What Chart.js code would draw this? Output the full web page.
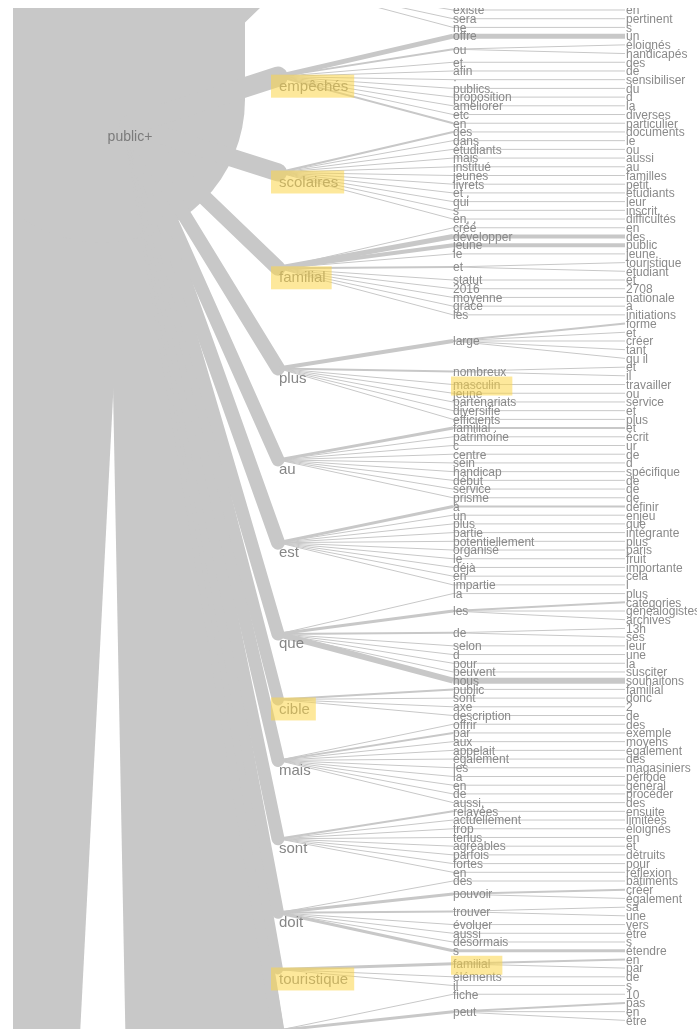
<!DOCTYPE html>
<html>
<head>
<meta charset="utf-8">
<title>Arbre de mots : public+</title>
<script src="https://cdn.jsdelivr.net/npm/chart.js@4.4.0/dist/chart.umd.min.js"></script>
<style>
    html, body { margin: 0; padding: 0; background: #fff; overflow: hidden; }
    #wrap { position: absolute; left: 13px; top: 8px; width: 684px; height: 1021px; }
</style>
</head>
<body>
<div id="wrap"><canvas id="tree" width="684" height="1021" style="width:684px;height:1021px"></canvas></div>
<script>
// Root word of the tree
const rootWord = 'public+';

// Level 1 : words following the root ('' = node outside the visible crop)
const l1Words  = ['', 'empêchés', 'scolaires', 'familial', 'plus', 'au', 'est', 'que', 'cible', 'mais', 'sont', 'doit', 'touristique', ''];
const l1Kids   = [3, 10, 11, 10, 7, 9, 10, 8, 4, 10, 8, 7, 3, 2];
const l1Width  = [14, 20, 18, 15, 14, 13, 14, 13, 12, 13, 13, 12, 10, 12];
const l1Mark   = [0, 1, 1, 1, 0, 0, 0, 0, 1, 0, 0, 0, 1, 0];
// rows of the first / last node that lie above / below the crop
const l1Hidden = [8, 0, 0, 0, 0, 0, 0, 0, 0, 0, 0, 0, 0, 6];

// Level 2
const l2Words = [
    'existe', 'sera', 'ne',
    'offre', 'ou', 'et.', 'afin', '·', 'publics.', 'proposition', 'améliorer', 'etc', 'en',
    'des', 'dans', 'étudiants', 'mais', 'institué', 'jeunes', 'livrets', 'et .', 'qui', 's', 'en, ,',
    'créé', 'développer', 'jeune', 'le', 'et', 'statut', '2016', 'moyenne', 'grâce', 'les',
    'large', 'nombreux', 'masculin', 'jeune', 'partenariats', 'diversifie', 'efficients',
    'familial .', 'patrimoine', 'c', 'centre', 'sein', 'handicap', 'début', 'service', 'prisme',
    'à', 'un', 'plus', 'partie', 'potentiellement', 'organisé', 'le', 'déjà', 'en', 'impartie',
    'la', 'les', 'de', 'selon', 'd', 'pour', 'peuvent', 'nous',
    'public', 'sont', 'axe', 'description',
    'offrir', 'par', 'aux', 'appelait', 'également', 'les', 'la', 'en', 'de', 'aussi,',
    'relayées', 'actuellement', 'trop', 'tenus', 'agréables', 'parfois', 'fortes', 'en',
    'des', 'pouvoir', 'trouver', 'évoluer', 'aussi', 'désormais', 's',
    'familial', 'éléments', 'il',
    'fiche', 'peut'
];
const l2Kids = [
    1, 1, 1,
    1, 2, 1, 1, 1, 1, 1, 1, 1, 1,
    1, 1, 1, 1, 1, 1, 1, 1, 1, 1, 1,
    1, 1, 1, 1, 2, 1, 1, 1, 1, 1,
    5, 2, 1, 1, 1, 1, 1,
    1, 1, 1, 1, 1, 1, 1, 1, 1,
    1, 1, 1, 1, 1, 1, 1, 1, 1, 1,
    1, 3, 2, 1, 1, 1, 1, 1,
    1, 1, 1, 1,
    1, 1, 1, 1, 1, 1, 1, 1, 1, 1,
    1, 1, 1, 1, 1, 1, 1, 1,
    1, 2, 2, 1, 1, 1, 1,
    2, 1, 1,
    1, 3
];
const l2Width = [
    1, 1, 1,
    5, 2, 1, 1, 1, 1, 1, 1, 1, 2,
    2, 1, 1, 1, 1, 1, 1, 1, 1, 1, 1,
    1, 5, 4, 1, 2, 1, 1, 1, 1, 1,
    4, 2, 1, 1, 1, 1, 1,
    3, 1, 1, 1, 1, 1, 1, 1, 1,
    3, 1, 1, 1, 1, 1, 1, 1, 1, 1,
    1, 3, 2, 1, 1, 1, 1, 6,
    2, 1, 1, 1,
    1, 2, 1, 1, 1, 1, 1, 1, 1, 1,
    2, 1, 1, 1, 1, 1, 1, 1,
    1, 3, 2, 1, 1, 1, 3,
    3, 1, 1,
    1, 3
];
const l2Marked = [36, 97];

// Level 3
const l3Words = [
    'en', 'pertinent', 's', 'un', 'éloignés', 'handicapés', 'des', 'de', 'sensibiliser', 'du',
    'd', 'la', 'diverses', 'particulier', 'documents', 'le', 'ou', 'aussi', 'au', 'familles',
    'petit.', 'étudiants', 'leur', 'inscrit.', 'difficultés', 'en', 'des', 'public', 'jeune.', 'touristique',
    'étudiant', 'et', '2708', 'nationale', 'à', 'initiations', 'forme', 'et', 'créer', 'tant',
    'qu il', 'et', 'il', 'travailler', 'ou', 'service', 'et', 'plus', 'et', 'écrit',
    'ur', 'de', 'd', 'spécifique', 'de', 'de', 'de', 'définir', 'enjeu', 'que',
    'intégrante', 'plus', 'paris', 'fruit', 'importante', 'cela', 'l', 'plus', 'catégories', 'généalogistes',
    'archives', '13h', 'ses', 'leur', 'une', 'la', 'susciter', 'souhaitons', 'familial', 'donc',
    '2', 'de', 'des', 'exemple', 'moyens', 'également', 'des', 'magasiniers', 'période', 'général',
    'procéder', 'des', 'ensuite', 'limitées', 'éloignés', 'en', 'et', 'détruits', 'pour', 'réflexion',
    'bâtiments', 'créer', 'également', 'sa', 'une', 'vers', 'être', 's', 'étendre', 'en',
    'par', 'de', 's', '10', 'pas', 'en', 'être'
];
const l3ThickRows  = [3, 26, 27, 36, 48, 57, 68, 77, 101, 108, 109, 114];
const l3ThickWidth = [5, 4, 4, 2, 2, 2, 2, 6, 2, 3, 2, 2];

// Branches from the root towards nodes far outside the crop
const farFromX   = [102, 72, 129, 129, 129, 129, 129, 129];
const farFromRow = [10.3, 13.2, 13.2, 13.2, 13.2, 13.2, 13.2, 13.2];
const farToX     = [102, -25, 278, 278, 278, 278, 278, 278];
const farToRow   = [-600, 228.5, 120.6, 136.6, 171, 228.5, 343, 906];
const farWidth   = [286, 110, 22, 27, 30, 31, 32, 42];

// Layout
const COL_X = [129, 278, 453, 625];
const ROOT_ROW = 13.2;
const LIFT = 0.35;            // level-1 links attach a little above the label
const LINK = '#c8c8c8';

const l2First = [], l2Last = [], l2Row = [];
let row = 0;
l2Kids.forEach(n => {
    l2First.push(row);
    row += n;
    l2Last.push(row - 1);
    l2Row.push((l2First[l2First.length - 1] + row - 1) / 2);
});

const l1Row = [], l1Range = [];
let k = 0;
l1Kids.forEach((n, i) => {
    const a = k, b = k + n - 1;
    k += n;
    let top = l2First[a], bottom = l2Last[b];
    if (i === 0) top -= l1Hidden[i]; else bottom += l1Hidden[i];
    l1Row.push((top + bottom) / 2);
    l1Range.push([a, b]);
});

const datasets = [];
function link(x0, r0, x1, r1, w, cap) {
    datasets.push({
        data: [{ x: x0, y: r0 }, { x: x1, y: r1 }],
        showLine: true,
        borderColor: LINK,
        borderWidth: w,
        borderCapStyle: cap || 'butt',
        pointRadius: 0,
        pointHoverRadius: 0,
        fill: false
    });
}

// level 2 -> level 3
l2Words.forEach((w, j) => {
    for (let c = l2First[j]; c <= l2Last[j]; c++) {
        const t = l3ThickRows.indexOf(c);
        link(COL_X[2], l2Row[j], COL_X[3], c, t >= 0 ? l3ThickWidth[t] : 1);
    }
});
// level 1 -> level 2
l1Words.forEach((w, i) => {
    for (let j = l1Range[i][0]; j <= l1Range[i][1]; j++) {
        link(COL_X[1], l1Row[i] - LIFT, COL_X[2], l2Row[j], l2Width[j]);
    }
});
// root -> level 1
l1Words.forEach((w, i) => link(COL_X[0], ROOT_ROW, COL_X[1], l1Row[i] - LIFT, l1Width[i], 'round'));
// root -> far nodes
farWidth.forEach((w, i) => link(farFromX[i], farFromRow[i], farToX[i], farToRow[i], w, i === 0 ? 'round' : 'butt'));

const FONT = '"Liberation Sans", Arial, sans-serif';

const labelPlugin = {
    id: 'treeLabels',
    afterDatasetsDraw(chart) {
        const { ctx, scales: { x, y } } = chart;
        const marks = [];
        ctx.save();
        ctx.textBaseline = 'middle';

        // root
        ctx.font = '14px ' + FONT;
        ctx.fillStyle = '#7b7b7b';
        ctx.textAlign = 'center';
        ctx.fillText(rootWord, x.getPixelForValue(COL_X[0]) + 1, y.getPixelForValue(ROOT_ROW) + 12);

        ctx.textAlign = 'left';
        // level 1
        ctx.font = '15px ' + FONT;
        ctx.fillStyle = '#868686';
        l1Words.forEach((w, i) => {
            if (!w) return;
            const px = x.getPixelForValue(COL_X[1]) + 1;
            const py = y.getPixelForValue(l1Row[i]) + 7;
            ctx.fillText(w, px, py);
            if (l1Mark[i]) marks.push([px - 8, py - 12, ctx.measureText(w).width + 14, 23]);
        });

        // level 2
        ctx.font = '12px ' + FONT;
        ctx.fillStyle = '#8a8a8a';
        l2Words.forEach((w, j) => {
            const px = x.getPixelForValue(COL_X[2]);
            const py = y.getPixelForValue(l2Row[j]) + 1;
            ctx.fillText(w, px, py);
            if (l2Marked.includes(j)) marks.push([px - 2, py - 9, ctx.measureText(w).width + 14, 19]);
        });

        // level 3
        l3Words.forEach((w, c) => {
            ctx.fillText(w, x.getPixelForValue(COL_X[3]) + 1, y.getPixelForValue(c) + 1);
        });

        // yellow marker highlights
        ctx.fillStyle = 'rgba(252, 214, 72, 0.55)';
        marks.forEach(m => ctx.fillRect(m[0], m[1], m[2], m[3]));
        ctx.restore();
    }
};

new Chart(document.getElementById('tree').getContext('2d'), {
    type: 'scatter',
    data: { datasets },
    options: {
        responsive: false,
        animation: false,
        devicePixelRatio: 1,
        events: [],
        layout: { padding: 0 },
        plugins: { legend: { display: false }, tooltip: { enabled: false } },
        scales: {
            x: { type: 'linear', min: 13, max: 697, display: false },
            y: { type: 'linear', min: -0.2296, max: 116.99, reverse: true, display: false }
        }
    },
    plugins: [labelPlugin]
});
</script>
</body>
</html>
